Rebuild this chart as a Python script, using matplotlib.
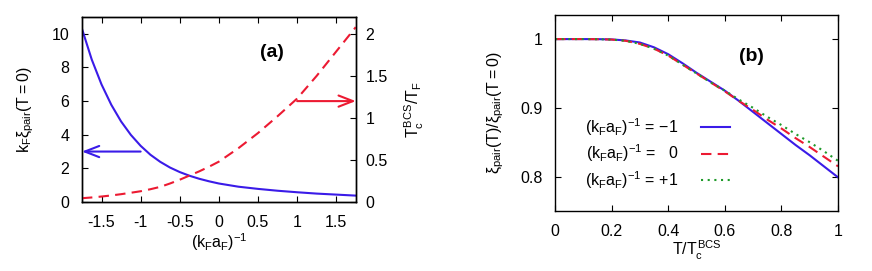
import matplotlib
matplotlib.use('Agg')
import matplotlib.pyplot as plt

plt.rcParams['font.family'] = ['Liberation Sans', 'DejaVu Sans']
plt.rcParams['mathtext.fontset'] = 'custom'
plt.rcParams['mathtext.rm'] = 'Liberation Sans'
plt.rcParams['mathtext.it'] = 'Liberation Sans'
plt.rcParams['mathtext.bf'] = 'Liberation Sans:bold'
plt.rcParams['font.size'] = 11.5

# panel (a): pair size and mean-field Tc vs coupling
inv_kfa = [-1.75, -1.625, -1.5, -1.375, -1.25, -1.125, -1.0, -0.875, -0.75, -0.625, -0.5,
           -0.375, -0.25, -0.125, 0.0, 0.25, 0.5, 0.75, 1.0, 1.25, 1.5, 1.75]
kf_xi_pair = [10.3, 8.47, 6.99, 5.78, 4.79, 3.99, 3.34, 2.81, 2.39, 2.05, 1.78,
              1.56, 1.38, 1.23, 1.10, 0.91, 0.78, 0.67, 0.58, 0.50, 0.44, 0.38]
tc_bcs = [0.045, 0.054, 0.065, 0.078, 0.093, 0.11, 0.128, 0.152, 0.18, 0.22, 0.265,
          0.315, 0.365, 0.42, 0.48, 0.64, 0.82, 1.02, 1.23, 1.5, 1.79, 2.08]

# panel (b): xi_pair(T)/xi_pair(0) vs T/Tc
t_ratio = [0.0, 0.1, 0.15, 0.2, 0.25, 0.3, 0.35, 0.4, 0.45, 0.5, 0.55, 0.6,
           0.65, 0.7, 0.75, 0.8, 0.85, 0.9, 0.95, 1.0]
xi_m1 = [1.0, 1.0, 0.9999, 0.9995, 0.998, 0.995, 0.988, 0.978, 0.965, 0.951, 0.938, 0.925,
         0.910, 0.894, 0.878, 0.862, 0.846, 0.831, 0.815, 0.799]
xi_0 = [1.0, 1.0, 0.9998, 0.9993, 0.9975, 0.993, 0.986, 0.976, 0.963, 0.950, 0.937, 0.924,
        0.910, 0.897, 0.883, 0.870, 0.856, 0.843, 0.829, 0.815]
xi_p1 = [1.0, 1.0, 0.9998, 0.9993, 0.9975, 0.993, 0.986, 0.976, 0.963, 0.950, 0.937, 0.925,
         0.912, 0.900, 0.887, 0.875, 0.862, 0.850, 0.837, 0.823]
legend_labels = [r'$(k_Fa_F)^{-1}$ = $-$1', r'$(k_Fa_F)^{-1}$ =   0', r'$(k_Fa_F)^{-1}$ = +1']

blue = '#3a1be8'
red = '#ec1a32'
green = '#1f9a2a'

fig = plt.figure(figsize=(8.72, 2.71), dpi=100)
ax1 = fig.add_axes([0.094, 0.2546, 0.314, 0.6826])
ax2 = ax1.twinx()
ax3 = fig.add_axes([0.6365, 0.2214, 0.3245, 0.7232])

ax1.plot(inv_kfa, kf_xi_pair, color=blue, lw=1.5)
ax2.plot(inv_kfa, tc_bcs, color=red, lw=1.5, dashes=(5, 3))
ax1.set_xlim(-1.75, 1.75)
ax1.set_ylim(0, 11)
ax2.set_ylim(0, 2.2)
ax1.set_xticks([-1.5, -1, -0.5, 0, 0.5, 1, 1.5])
ax1.set_xticklabels(['-1.5', '-1', '-0.5', '0', '0.5', '1', '1.5'])
ax1.set_yticks([0, 2, 4, 6, 8, 10])
ax2.set_yticks([0, 0.5, 1, 1.5, 2])
ax2.set_yticklabels(['0', '0.5', '1', '1.5', '2'])
ax1.tick_params(direction='in', top=True, right=False, pad=9, length=4)
ax2.tick_params(direction='in', pad=7, length=4)
ax1.set_xlabel(r'$(k_Fa_F)^{-1}$', labelpad=1)
ax1.set_ylabel(r'$k_F\xi_{pair}(T=0)$', labelpad=11)
ax2.set_ylabel(r'$T_c^{BCS}/T_F$', labelpad=11)
ax1.text(0.693, 0.81, '(a)', transform=ax1.transAxes, fontsize=14, fontweight='bold',
         ha='center', va='center')
ax1.annotate('', xy=(-1.75, 3), xytext=(-1.0, 3),
             arrowprops=dict(arrowstyle='->,head_length=0.9,head_width=0.35', color=blue, lw=1.5,
                             shrinkA=0, shrinkB=0))
ax2.annotate('', xy=(1.75, 1.2), xytext=(1.0, 1.2),
             arrowprops=dict(arrowstyle='->,head_length=0.9,head_width=0.35', color=red, lw=1.5,
                             shrinkA=0, shrinkB=0))

ax3.plot(t_ratio, xi_m1, color=blue, lw=1.5, label=legend_labels[0])
ax3.plot(t_ratio, xi_0, color=red, lw=1.5, dashes=(5, 3), label=legend_labels[1])
ax3.plot(t_ratio, xi_p1, color=green, lw=1.5, dashes=(1, 2.2), label=legend_labels[2])
ax3.set_xlim(0, 1)
ax3.set_ylim(0.75, 1.035)
ax3.set_xticks([0, 0.2, 0.4, 0.6, 0.8, 1])
ax3.set_xticklabels(['0', '0.2', '0.4', '0.6', '0.8', '1'])
ax3.set_yticks([0.8, 0.9, 1])
ax3.set_yticklabels(['0.8', '0.9', '1'])
ax3.tick_params(direction='in', top=True, right=True, pad=9, length=4)
ax3.set_xlabel(r'$T/T_c^{BCS}$', labelpad=0)
ax3.set_ylabel(r'$\xi_{pair}(T)/\xi_{pair}(T=0)$', labelpad=10)
ax3.text(0.695, 0.787, '(b)', transform=ax3.transAxes, fontsize=14, fontweight='bold',
         ha='center', va='center')
ax3.legend(loc='lower left', bbox_to_anchor=(0.085, 0.07), frameon=False, markerfirst=False,
           handlelength=1.8, labelspacing=0.3, handletextpad=1.4, borderaxespad=0)

for a in (ax1, ax2, ax3):
    for s in a.spines.values():
        s.set_linewidth(1.0)

fig.savefig('out.png', dpi=100)
